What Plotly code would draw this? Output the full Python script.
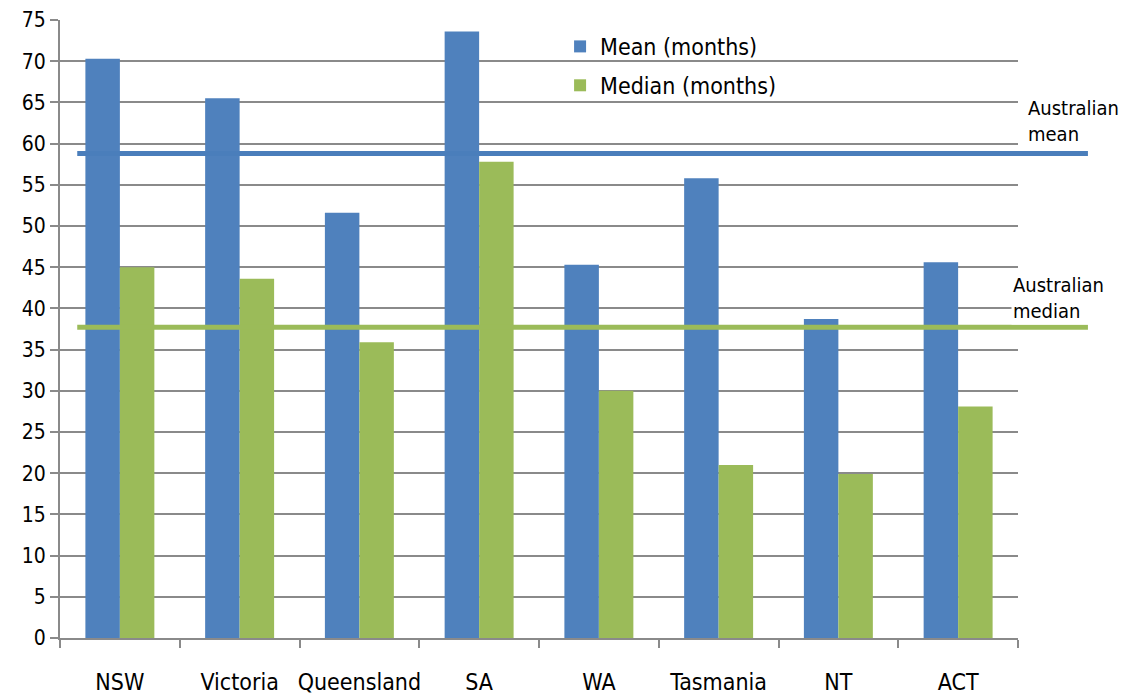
import plotly.graph_objects as go

states = ["NSW", "Victoria", "Queensland", "SA", "WA", "Tasmania", "NT", "ACT"]
mean_months = [70.3, 65.5, 51.6, 73.6, 45.3, 55.8, 38.7, 45.6]
median_months = [45.0, 43.6, 35.9, 57.8, 30.0, 21.0, 19.9, 28.1]
aus_mean = 58.8
aus_median = 37.7
y_ticks = list(range(0, 80, 5))

BLUE = "#4F81BD"
GREEN = "#9BBB59"
GRID = "#8A8A8A"
FONT = "DejaVu Sans Condensed, Roboto, sans-serif"

fig = go.Figure()
fig.add_trace(go.Bar(x=states, y=mean_months, name="Mean (months)",
                     marker=dict(color=BLUE, line=dict(width=0)), legendgroup="a"))
fig.add_trace(go.Bar(x=states, y=median_months, name="Median (months)",
                     marker=dict(color=GREEN, line=dict(width=0)), legendgroup="b"))

fig.add_shape(type="line", xref="paper", yref="y", x0=0.018, x1=1.073,
              y0=aus_mean, y1=aus_mean, line=dict(color="#4A7EBB", width=5), layer="above")
fig.add_shape(type="line", xref="paper", yref="y", x0=0.018, x1=1.073,
              y0=aus_median, y1=aus_median, line=dict(color=GREEN, width=5), layer="above")

fig.add_annotation(text="Australian<br>mean", xref="paper", yref="y", x=1.008, y=62.8,
                   xanchor="left", yanchor="middle", align="left", showarrow=False,
                   bgcolor="white", font=dict(size=20, color="black", family=FONT))
fig.add_annotation(text="Australian<br>median", xref="paper", yref="y", x=0.993, y=41.3,
                   xanchor="left", yanchor="middle", align="left", showarrow=False,
                   bgcolor="white", font=dict(size=20, color="black", family=FONT))

fig.update_layout(
    width=1124, height=687,
    margin=dict(l=52, r=114, t=12, b=57, autoexpand=False),
    paper_bgcolor="white", plot_bgcolor="white",
    barmode="group", bargap=0.424, bargroupgap=0,
    font=dict(family=FONT, size=20, color="black"),
    showlegend=True,
    legend=dict(x=0.522, y=0.992, xanchor="left", yanchor="top",
                bgcolor="rgba(0,0,0,0)", font=dict(size=23, family=FONT),
                traceorder="grouped", tracegroupgap=6),
)
fig.update_xaxes(type="category", showline=True, linecolor=GRID, linewidth=2,
                 ticks="outside", tickson="boundaries", ticklen=8, tickcolor=GRID, tickwidth=2,
                 showgrid=False, ticklabelstandoff=22, tickangle=0, automargin=False,
                 ticklabeloverflow="allow", tickfont=dict(size=23, family=FONT))
fig.update_yaxes(range=[0, 75], tickvals=y_ticks, showline=True, linecolor=GRID, linewidth=2,
                 ticks="outside", ticklen=8, tickcolor=GRID, tickwidth=2, automargin=False,
                 showgrid=True, gridcolor=GRID, gridwidth=2, zeroline=False,
                 ticklabeloverflow="allow", tickfont=dict(size=21, family=FONT))

fig.write_html("out.html")
